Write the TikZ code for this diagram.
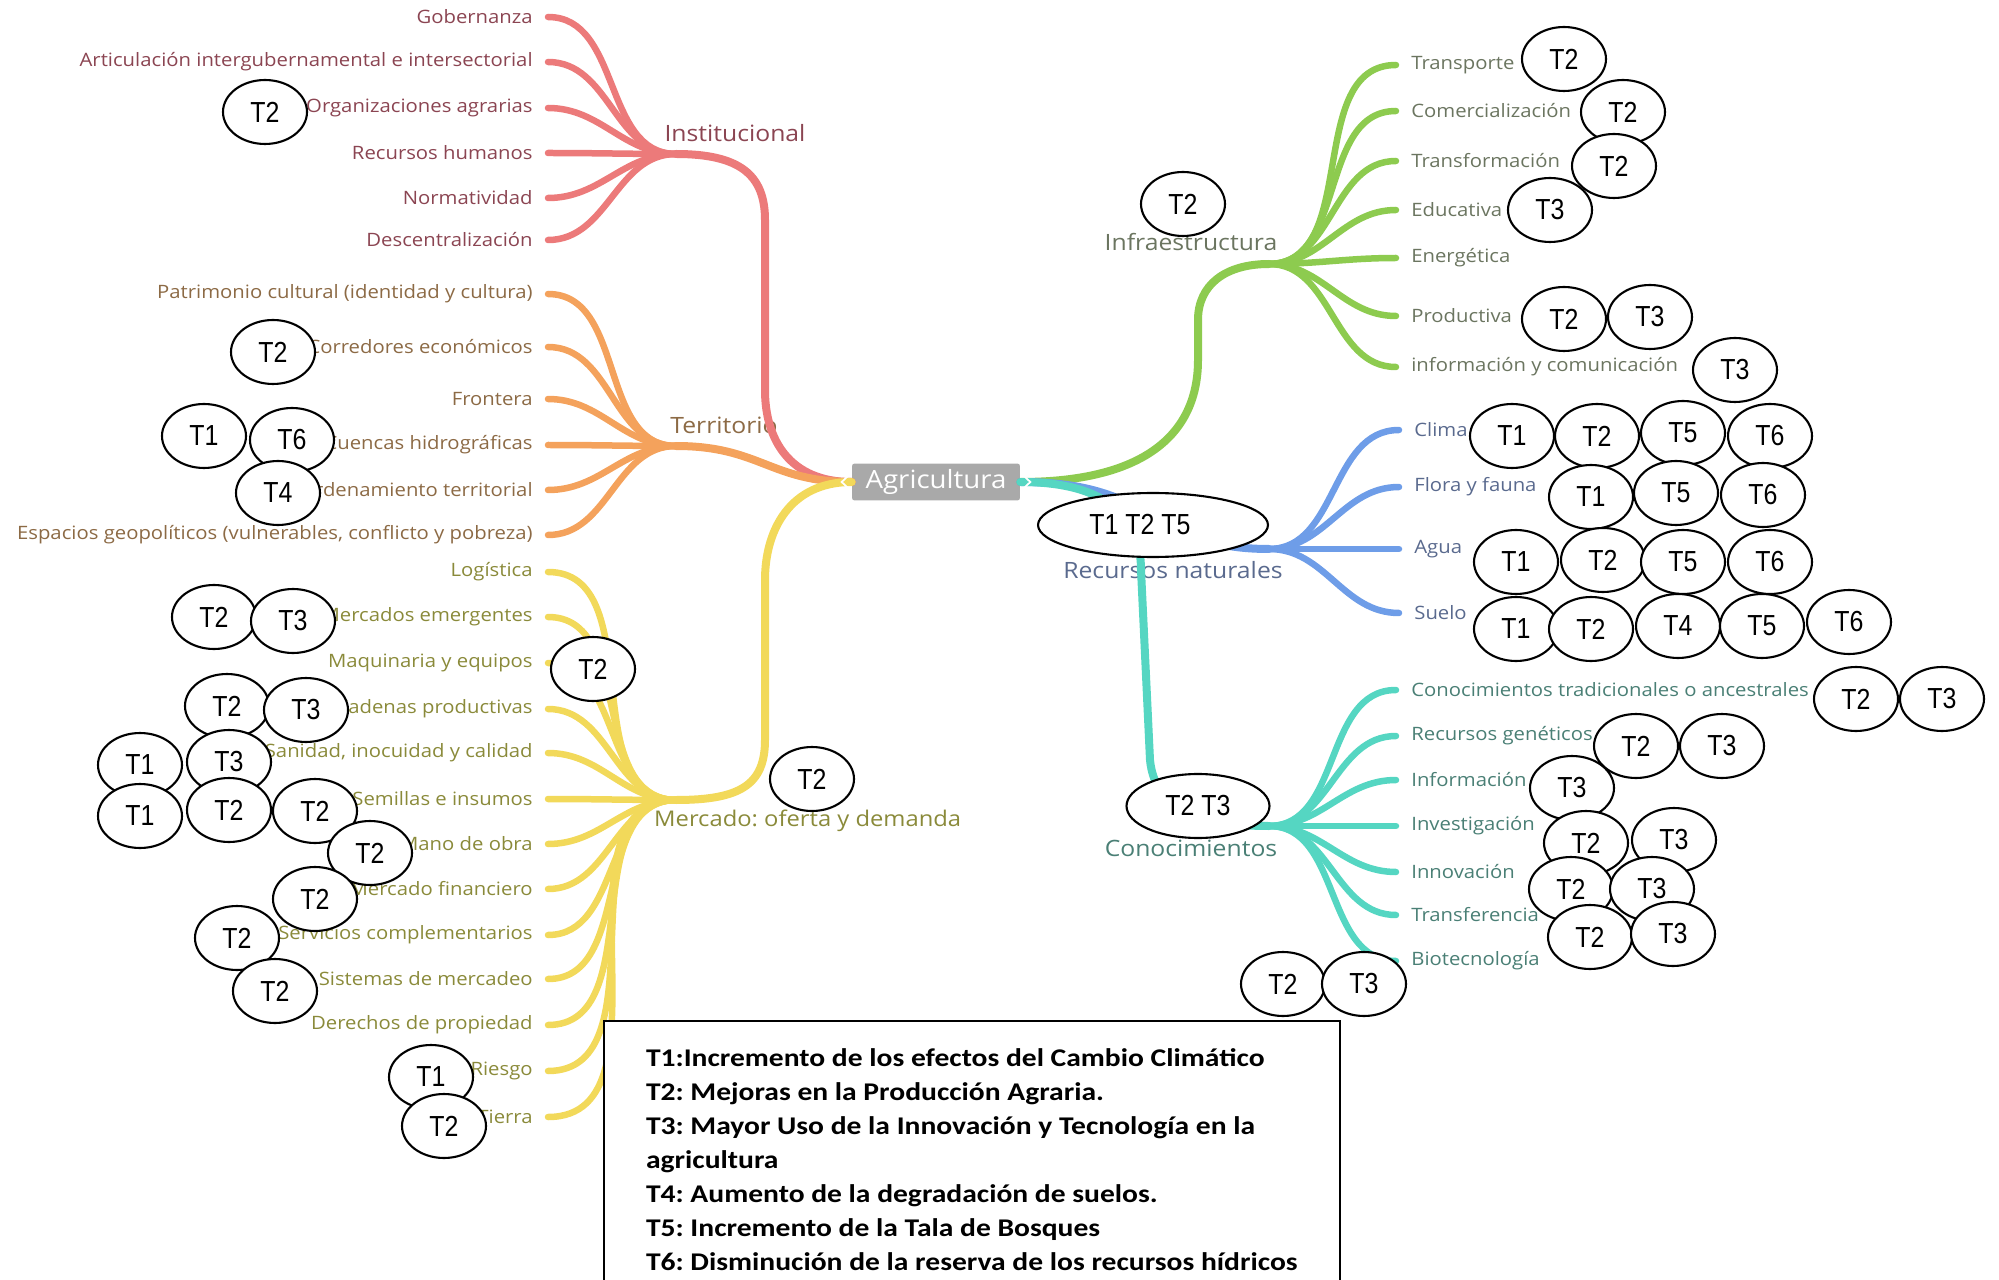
\documentclass[tikz,border=0pt]{standalone}
\usepackage{fontspec}
\setmainfont{Open Sans}[FakeStretch=1.1]
\newfontfamily\tagfont{Liberation Sans}[FakeStretch=0.86]
\newfontfamily\keyfont{Carlito}[FakeStretch=1.16]
\newcommand\keyset{\keyfont\bfseries\fontsize{14.5}{19.3}\selectfont\hyphenpenalty=10000\relax}
\usetikzlibrary{shapes.geometric}
\definecolor{instc}{HTML}{EC7A7A}
\definecolor{instt}{HTML}{8B4552}
\definecolor{terrc}{HTML}{F4A25C}
\definecolor{terrt}{HTML}{8C6A45}
\definecolor{mercc}{HTML}{F2D95A}
\definecolor{merct}{HTML}{8A8A3A}
\definecolor{infrc}{HTML}{8DCB4F}
\definecolor{infrt}{HTML}{6B7560}
\definecolor{recnc}{HTML}{6E9DE8}
\definecolor{recnt}{HTML}{5A6A8E}
\definecolor{conoc}{HTML}{55D6C2}
\definecolor{conot}{HTML}{4A7F75}
\definecolor{hubgray}{HTML}{A9A9A9}
\tikzset{
    leafl/.style={
        anchor=east,
        inner xsep=0.3cm, inner ysep=0pt,
        font=\fontsize{10.5}{12}\selectfont},
    leafr/.style={
        anchor=west,
        inner xsep=0.3cm, inner ysep=0pt,
        font=\fontsize{10.5}{12}\selectfont},
    branch/.style={font=\fontsize{12.8}{15}\selectfont},
    twig/.style={line width=0.13cm, line cap=round},
    limb/.style={line width=0.16cm, line cap=round},
    tcirc/.style={
        ellipse, draw, fill=white,
        line width=1.2pt,
        minimum width=1.68cm, minimum height=1.28cm,
        inner sep=0pt,
        font=\tagfont\fontsize{16.5}{18}\selectfont},
    hub/.style={
        fill=hubgray, text=white, rounded corners=1.5pt,
        minimum width=3.36cm, minimum height=0.74cm,
        font=\fontsize{14.3}{17}\selectfont},
    notch/.style={white, line width=1pt},
    key/.style={
        draw, fill=white, line width=1.2pt,
        anchor=north west, align=left,
        inner xsep=0.84cm, inner ysep=0.56cm,
        font=\keyset}}

\begin{document}
\frenchspacing
\begin{tikzpicture}[x=0.02cm,y=-0.02cm]
        \useasboundingbox (0,0) rectangle (1999,1280);

        % junctions
        \coordinate (inst) at (676,154);
        \coordinate (terr) at (676,446);
        \coordinate (merc) at (676,800);
        \coordinate (infr) at (1269,264);
        \coordinate (recn) at (1269,549);
        \coordinate (cono) at (1269,826);

        \node[hub] (agri) at (936,482) {Agricultura};

        % branch labels
        \node[branch,text=instt] (instl) at (735,133) {Institucional};
        \node[branch,text=terrt] (terrl) at (724,425) {Territorio};
        \node[branch,text=merct,anchor=west,font=\fontsize{12.3}{15}\selectfont] (mercl) at (648,821) {Mercado: oferta y demanda};
        \node[branch,text=infrt] (infrl) at (1191,242) {Infraestructura};
        \node[branch,text=recnt] (recnl) at (1173,570) {Recursos naturales};
        \node[branch,text=conot] (conol) at (1191,848) {Conocimientos};

        % main limbs
        \draw[limb,instc] (agri.west) .. controls (790,482) and (765,440) .. (765,390)
            -- (765,220) .. controls (765,175) and (740,154) .. (inst);
        \draw[limb,terrc] (agri.west) .. controls (770,482) and (760,446) .. (terr);
        \draw[limb,mercc] (agri.west) .. controls (790,482) and (765,530) .. (765,580)
            -- (765,740) .. controls (765,785) and (740,800) .. (merc);
        \draw[limb,infrc] (agri.east) .. controls (1150,482) and (1198,430) .. (1198,360)
            -- (1198,320) .. controls (1198,285) and (1225,264) .. (infr);
        \draw[limb,recnc] (agri.east) .. controls (1160,482) and (1150,549) .. (recn);
        \draw[limb,conoc] (agri.east) .. controls (1110,482) and (1141,520) .. (1141,570)
            -- (1150,760) .. controls (1155,810) and (1200,826) .. (cono);
        \draw[notch] ([xshift=-0.04cm,yshift=0.15cm]agri.west) -- ([xshift=-0.2cm]agri.west)
            -- ([xshift=-0.04cm,yshift=-0.15cm]agri.west);
        \draw[notch] ([xshift=0.04cm,yshift=0.15cm]agri.east) -- ([xshift=0.2cm]agri.east)
            -- ([xshift=0.04cm,yshift=-0.15cm]agri.east);

        % Institucional
        \node[leafl,text=instt] (i1) at (548,17) {Gobernanza};
        \node[leafl,text=instt] (i2) at (548,62) {Articulación intergubernamental e intersectorial};
        \node[leafl,text=instt] (i3) at (548,108) {Organizaciones agrarias};
        \node[leafl,text=instt] (i4) at (548,153) {Recursos humanos};
        \node[leafl,text=instt] (i5) at (548,198) {Normatividad};
        \node[leafl,text=instt] (i6) at (548,240) {Descentralización};
        \draw[twig,instc] (inst) to[out=180,in=0] (i1.east);
        \draw[twig,instc] (inst) to[out=180,in=0] (i2.east);
        \draw[twig,instc] (inst) to[out=180,in=0] (i3.east);
        \draw[twig,instc] (inst) to[out=180,in=0] (i4.east);
        \draw[twig,instc] (inst) to[out=180,in=0] (i5.east);
        \draw[twig,instc] (inst) to[out=180,in=0] (i6.east);

        % Territorio
        \node[leafl,text=terrt] (t1) at (548,294) {Patrimonio cultural (identidad y cultura)};
        \node[leafl,text=terrt] (t2) at (548,347) {Corredores económicos};
        \node[leafl,text=terrt] (t3) at (548,399) {Frontera};
        \node[leafl,text=terrt] (t4) at (548,445) {Cuencas hidrográficas};
        \node[leafl,text=terrt] (t5) at (548,490) {Ordenamiento territorial};
        \node[leafl,text=terrt] (t6) at (548,535) {Espacios geopolíticos (vulnerables, conflicto y pobreza)};
        \draw[twig,terrc] (terr) to[out=180,in=0] (t1.east);
        \draw[twig,terrc] (terr) to[out=180,in=0] (t2.east);
        \draw[twig,terrc] (terr) to[out=180,in=0] (t3.east);
        \draw[twig,terrc] (terr) to[out=180,in=0] (t4.east);
        \draw[twig,terrc] (terr) to[out=180,in=0] (t5.east);
        \draw[twig,terrc] (terr) to[out=180,in=0] (t6.east);

        % Mercado
        \node[leafl,text=merct] (m1) at (548,572) {Logística};
        \node[leafl,text=merct] (m2) at (548,617) {Mercados emergentes};
        \node[leafl,text=merct] (m3) at (548,663) {Maquinaria y equipos};
        \node[leafl,text=merct] (m4) at (548,709) {Cadenas productivas};
        \node[leafl,text=merct] (m5) at (548,753) {Sanidad, inocuidad y calidad};
        \node[leafl,text=merct] (m6) at (548,799) {Semillas e insumos};
        \node[leafl,text=merct] (m7) at (548,844) {Mano de obra};
        \node[leafl,text=merct] (m8) at (548,889) {Mercado financiero};
        \node[leafl,text=merct] (m9) at (548,935) {Servicios complementarios};
        \node[leafl,text=merct] (m10) at (548,979) {Sistemas de mercadeo};
        \node[leafl,text=merct] (m11) at (548,1025) {Derechos de propiedad};
        \node[leafl,text=merct] (m12) at (548,1071) {Riesgo};
        \node[leafl,text=merct] (m13) at (548,1117) {Tierra};
        \draw[twig,mercc] (merc) to[out=180,in=0] (m1.east);
        \draw[twig,mercc] (merc) to[out=180,in=0] (m2.east);
        \draw[twig,mercc] (merc) to[out=180,in=0] (m3.east);
        \draw[twig,mercc] (merc) to[out=180,in=0] (m4.east);
        \draw[twig,mercc] (merc) to[out=180,in=0] (m5.east);
        \draw[twig,mercc] (merc) to[out=180,in=0] (m6.east);
        \draw[twig,mercc] (merc) to[out=180,in=0] (m7.east);
        \draw[twig,mercc] (merc) to[out=180,in=0] (m8.east);
        \draw[twig,mercc] (merc) to[out=180,in=0] (m9.east);
        \draw[twig,mercc] (merc) to[out=180,in=0] (m10.east);
        \draw[twig,mercc] (merc) to[out=180,in=0] (m11.east);
        \draw[twig,mercc] (merc) to[out=180,in=0] (m12.east);
        \draw[twig,mercc] (merc) to[out=180,in=0] (m13.east);

        % Infraestructura
        \node[leafr,text=infrt] (f1) at (1396,65) {Transporte};
        \node[leafr,text=infrt] (f2) at (1396,111) {Comercialización};
        \node[leafr,text=infrt] (f3) at (1396,161) {Transformación};
        \node[leafr,text=infrt] (f4) at (1396,210) {Educativa};
        \node[leafr,text=infrt] (f5) at (1396,258) {Energética};
        \node[leafr,text=infrt] (f6) at (1396,316) {Productiva};
        \node[leafr,text=infrt] (f7) at (1396,367) {información y comunicación};
        \draw[twig,infrc] (infr) to[out=0,in=180] (f1.west);
        \draw[twig,infrc] (infr) to[out=0,in=180] (f2.west);
        \draw[twig,infrc] (infr) to[out=0,in=180] (f3.west);
        \draw[twig,infrc] (infr) to[out=0,in=180] (f4.west);
        \draw[twig,infrc] (infr) to[out=0,in=180] (f5.west);
        \draw[twig,infrc] (infr) to[out=0,in=180] (f6.west);
        \draw[twig,infrc] (infr) to[out=0,in=180] (f7.west);

        % Recursos naturales
        \node[leafr,text=recnt] (r1) at (1399,430) {Clima};
        \node[leafr,text=recnt] (r2) at (1399,487) {Flora y fauna};
        \node[leafr,text=recnt] (r3) at (1399,549) {Agua};
        \node[leafr,text=recnt] (r4) at (1399,613) {Suelo};
        \draw[twig,recnc] (recn) to[out=0,in=180] (r1.west);
        \draw[twig,recnc] (recn) to[out=0,in=180] (r2.west);
        \draw[twig,recnc] (recn) to[out=0,in=180] (r3.west);
        \draw[twig,recnc] (recn) to[out=0,in=180] (r4.west);

        % Conocimientos
        \node[leafr,text=conot] (c1) at (1396,690) {Conocimientos tradicionales o ancestrales};
        \node[leafr,text=conot] (c2) at (1396,736) {Recursos genéticos};
        \node[leafr,text=conot] (c3) at (1396,780) {Información};
        \node[leafr,text=conot] (c4) at (1396,826) {Investigación};
        \node[leafr,text=conot] (c5) at (1396,872) {Innovación};
        \node[leafr,text=conot] (c6) at (1396,915) {Transferencia};
        \node[leafr,text=conot] (c7) at (1396,961) {Biotecnología};
        \draw[twig,conoc] (cono) to[out=0,in=180] (c1.west);
        \draw[twig,conoc] (cono) to[out=0,in=180] (c2.west);
        \draw[twig,conoc] (cono) to[out=0,in=180] (c3.west);
        \draw[twig,conoc] (cono) to[out=0,in=180] (c4.west);
        \draw[twig,conoc] (cono) to[out=0,in=180] (c5.west);
        \draw[twig,conoc] (cono) to[out=0,in=180] (c6.west);
        \draw[twig,conoc] (cono) to[out=0,in=180] (c7.west);

        % tendencias, left side
        \node[tcirc] (a1) at (265,112) {T2};
        \node[tcirc] (a2) at (273,352) {T2};
        \node[tcirc] (a3) at (204,436) {T1};
        \node[tcirc] (a4) at (292,440) {T6};
        \node[tcirc] (a5) at (278,493) {T4};
        \node[tcirc] (a6) at (214,617) {T2};
        \node[tcirc] (a7) at (293,621) {T3};
        \node[tcirc] (a8) at (593,669) {T2};
        \node[tcirc] (a9) at (227,706) {T2};
        \node[tcirc] (a10) at (306,710) {T3};
        \node[tcirc] (a11) at (140,765) {T1};
        \node[tcirc] (a12) at (229,762) {T3};
        \node[tcirc] (a13) at (140,816) {T1};
        \node[tcirc] (a14) at (229,810) {T2};
        \node[tcirc] (a15) at (315,811) {T2};
        \node[tcirc] (a16) at (370,853) {T2};
        \node[tcirc] (a17) at (315,899) {T2};
        \node[tcirc] (a18) at (237,938) {T2};
        \node[tcirc] (a19) at (275,991) {T2};
        \node[tcirc] (a20) at (431,1077) {T1};
        \node[tcirc] (a21) at (444,1126) {T2};
        \node[tcirc] (a22) at (812,779) {T2};

        % tendencias, right side
        \node[tcirc] (b1) at (1183,204) {T2};
        \node[tcirc] (b2) at (1564,59) {T2};
        \node[tcirc] (b3) at (1623,112) {T2};
        \node[tcirc] (b5) at (1550,210) {T3};
        \node[tcirc] (b4) at (1614,166) {T2};
        \node[tcirc] (b6) at (1564,319) {T2};
        \node[tcirc] (b7) at (1650,317) {T3};
        \node[tcirc] (b8) at (1735,370) {T3};
        \node[tcirc] (b9) at (1512,436) {T1};
        \node[tcirc] (b10) at (1597,436) {T2};
        \node[tcirc] (b11) at (1683,433) {T5};
        \node[tcirc] (b12) at (1770,436) {T6};
        \node[tcirc] (b13) at (1591,497) {T1};
        \node[tcirc] (b14) at (1676,493) {T5};
        \node[tcirc] (b15) at (1763,495) {T6};
        \node[tcirc] (b16) at (1516,562) {T1};
        \node[tcirc] (b17) at (1603,560) {T2};
        \node[tcirc] (b18) at (1683,562) {T5};
        \node[tcirc] (b19) at (1770,562) {T6};
        \node[tcirc] (b20) at (1516,629) {T1};
        \node[tcirc] (b21) at (1591,629) {T2};
        \node[tcirc] (b22) at (1678,626) {T4};
        \node[tcirc] (b23) at (1762,626) {T5};
        \node[tcirc] (b24) at (1849,622) {T6};
        \node[tcirc,minimum width=4.6cm] (b25) at (1153,525) {T1 T2 T5\rule{0.52cm}{0pt}};
        \node[tcirc,minimum width=2.86cm] (b26) at (1198,806) {T2 T3};
        \node[tcirc] (b27) at (1856,699) {T2};
        \node[tcirc] (b28) at (1942,699) {T3};
        \node[tcirc] (b29) at (1636,746) {T2};
        \node[tcirc] (b30) at (1722,746) {T3};
        \node[tcirc] (b31) at (1572,788) {T3};
        \node[tcirc] (b32) at (1586,843) {T2};
        \node[tcirc] (b33) at (1674,840) {T3};
        \node[tcirc] (b34) at (1571,889) {T2};
        \node[tcirc] (b35) at (1652,889) {T3};
        \node[tcirc] (b36) at (1590,937) {T2};
        \node[tcirc] (b37) at (1673,934) {T3};
        \node[tcirc] (b38) at (1283,984) {T2};
        \node[tcirc] (b39) at (1364,984) {T3};

        % legend
        \node[key] (legend) at (603,1020) {T1:Incremento de los efectos del Cambio Climático\\
            T2: Mejoras en la Producción Agraria.\\
            T3: Mayor Uso de la Innovación y Tecnología en la\\
            agricultura\\
            T4: Aumento de la degradación de suelos.\\
            T5: Incremento de la Tala de Bosques\\
            T6: Disminución de la reserva de los recursos hídricos};
    \end{tikzpicture}
\end{document}
